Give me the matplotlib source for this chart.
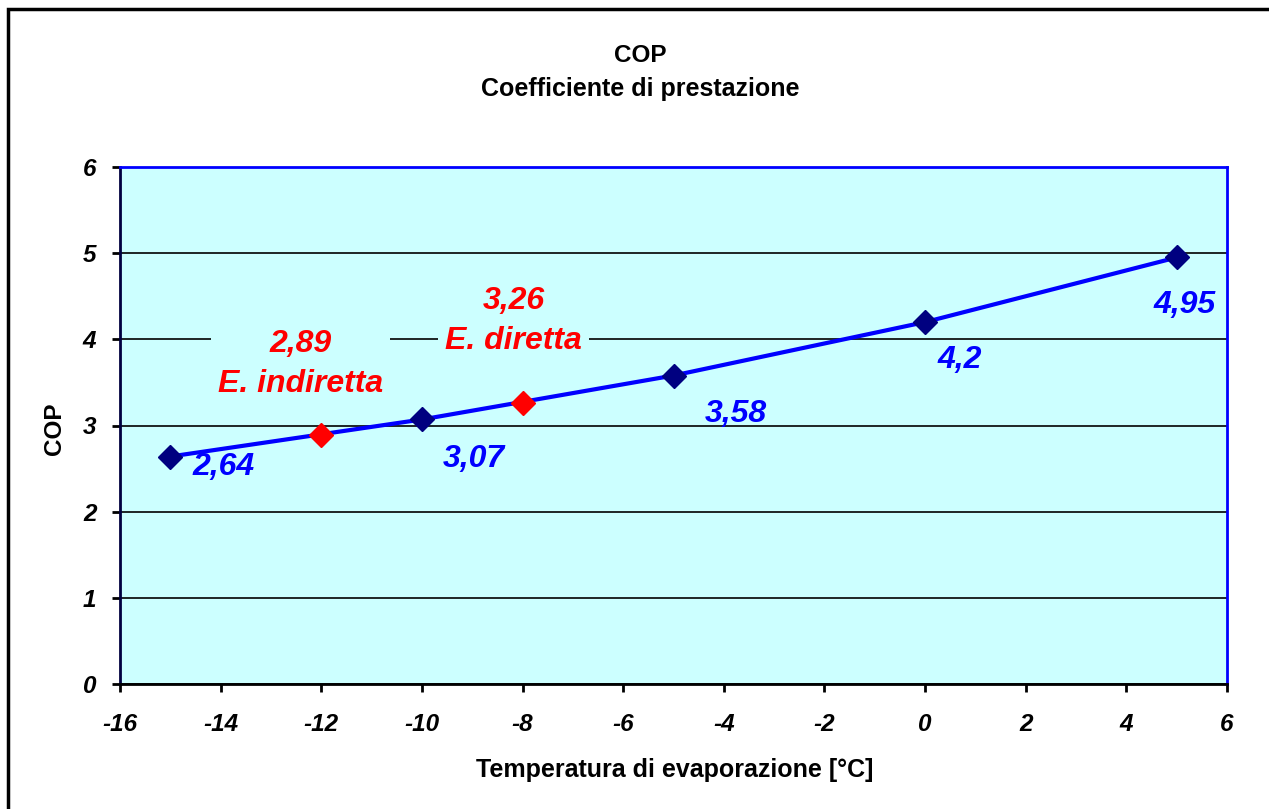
import matplotlib.pyplot as plt
from matplotlib.patches import Rectangle

# data
temps = [-15, -10, -5, 0, 5]
cop = [2.64, 3.07, 3.58, 4.2, 4.95]
cop_labels = ["2,64", "3,07", "3,58", "4,2", "4,95"]

red_temps = [-12, -8]
red_cop = [2.89, 3.26]
red_labels = ["2,89\nE. indiretta", "3,26\nE. diretta"]

xticks = list(range(-16, 7, 2))
yticks = list(range(0, 7))

plt.rcParams['font.family'] = ['Liberation Sans', 'DejaVu Sans']

W, H = 1269, 809
fig = plt.figure(figsize=(W / 100, H / 100), dpi=100)
fig.patches.append(Rectangle((8 / W, -0.01), 1.0, 1 - 9 / H + 0.01,
                             transform=fig.transFigure, fill=False,
                             edgecolor='black', linewidth=2.5))

ax = fig.add_axes([120 / W, 1 - 684 / H, 1107 / W, 517 / H])
ax.set_facecolor('#CCFFFF')

ax.plot(temps, cop, color='#0000FF', linewidth=3, zorder=3)
ax.plot(temps, cop, linestyle='none', marker='D', markersize=12,
        color='#000080', zorder=4)
ax.plot(red_temps, red_cop, linestyle='none', marker='D', markersize=12,
        color='#FF0000', zorder=4)

# blue value labels (offsets in pixels)
offsets = [(53, -10), (52, -40), (62, -38), (35, -38), (8, -48)]
for x, y, lab, (dx, dy) in zip(temps, cop, cop_labels, offsets):
    ax.annotate(lab, (x, y), xytext=(dx, dy), textcoords='offset pixels',
                ha='center', va='center', color='#0000FF', fontsize=23,
                fontweight='bold', fontstyle='italic', zorder=5)

red_offsets = [(-21, 71), (-9, 82)]
for x, y, lab, (dx, dy) in zip(red_temps, red_cop, red_labels, red_offsets):
    ax.annotate(lab, (x, y), xytext=(dx, dy), textcoords='offset pixels',
                ha='center', va='center', color='#FF0000', fontsize=23,
                fontweight='bold', fontstyle='italic', linespacing=1.4,
                bbox=dict(facecolor='#CCFFFF', edgecolor='none', pad=5),
                zorder=5)

ax.set_xlim(-16, 6)
ax.set_ylim(0, 6)
ax.set_xticks(xticks)
ax.set_yticks(yticks)
ax.set_xticklabels([str(t) for t in xticks], fontsize=17.5, fontweight='bold',
                   fontstyle='italic')
ax.set_yticklabels([str(t) for t in yticks], fontsize=17.5, fontweight='bold',
                   fontstyle='italic')
ax.tick_params(axis='x', direction='out', length=6, width=2, pad=15)
ax.tick_params(axis='y', direction='out', length=6, width=2, pad=11)

ax.grid(axis='y', color='black', linewidth=1.2)
ax.set_axisbelow(True)

ax.spines['left'].set_color('#000040')
ax.spines['bottom'].set_color('black')
ax.spines['top'].set_color('#0000FF')
ax.spines['right'].set_color('#0000FF')
for s in ax.spines.values():
    s.set_linewidth(2)

fig.text(675 / W, 1 - 770 / H, "Temperatura di evaporazione [°C]",
         ha='center', va='center', fontsize=18, fontweight='bold')
fig.text(55 / W, 1 - 429 / H, "COP", ha='center', va='center',
         rotation=90, fontsize=17.5, fontweight='bold')

fig.text(640 / W, 1 - 55 / H, "COP", ha='center', va='center',
         fontsize=17.5, fontweight='bold')
fig.text(640 / W, 1 - 89 / H, "Coefficiente di prestazione",
         ha='center', va='center', fontsize=18, fontweight='bold')

fig.savefig("out.png", dpi=100, facecolor='white')
